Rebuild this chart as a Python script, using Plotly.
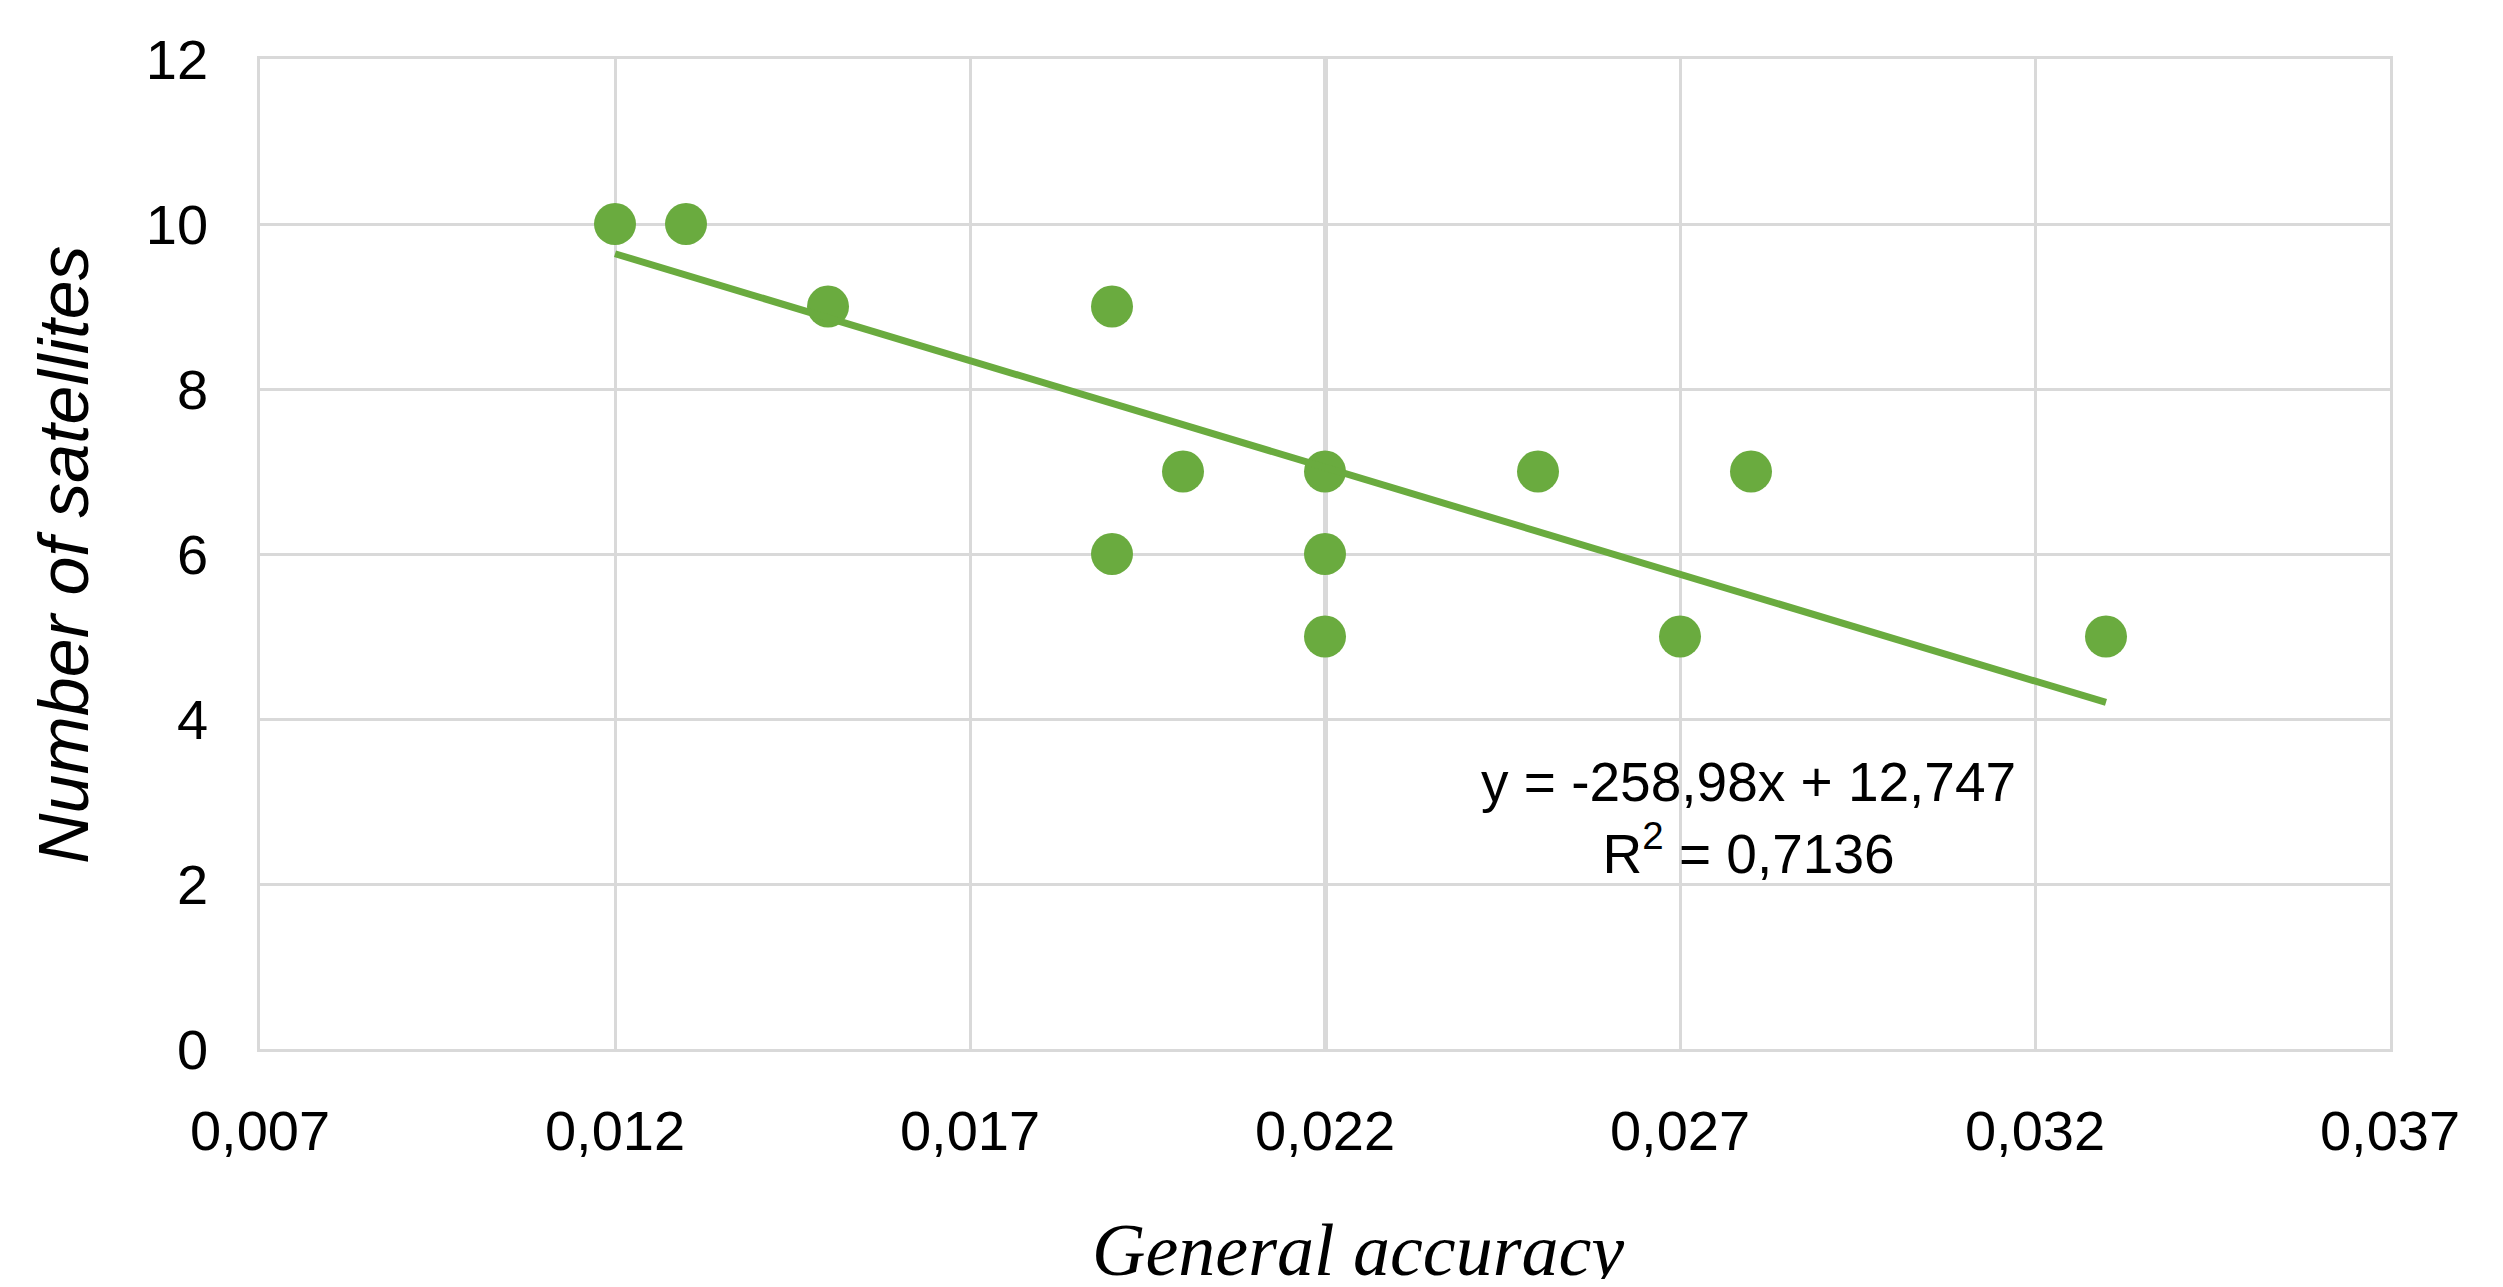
import plotly.graph_objects as go

# Data
accuracy = [0.012, 0.013, 0.015, 0.019, 0.020, 0.022, 0.025, 0.028, 0.019, 0.022, 0.022, 0.027, 0.033]
satellites = [10, 10, 9, 9, 7, 7, 7, 7, 6, 6, 5, 5, 5]

# Trendline (as printed on chart)
slope = -258.98
intercept = 12.747
r_squared_text = "0,7136"
trend_x = [min(accuracy), max(accuracy)]
trend_y = [slope * x + intercept for x in trend_x]

x_tickvals = [0.007, 0.012, 0.017, 0.022, 0.027, 0.032, 0.037]
x_ticktext = ["0,007", "0,012", "0,017", "0,022", "0,027", "0,032", "0,037"]
y_tickvals = [0, 2, 4, 6, 8, 10, 12]
y_ticktext = ["0", "2", "4", "6", "8", "10", "12"]

GREEN = "#6aab3f"
GRID = "#d9d9d9"
TICK_FONT = dict(family="Liberation Sans, Arial, sans-serif", size=56, color="#000000")

# page body has an 8px default margin; size the figure to fit the window
W, H = 2503 - 16, 1287 - 16
L, R, T, B = 252, 105, 51, 230
plot_w = W - L - R
plot_h = H - T - B

fig = go.Figure()

fig.add_trace(go.Scatter(
    x=accuracy, y=satellites, mode="markers",
    marker=dict(size=42, color=GREEN, line=dict(width=0)),
    showlegend=False, hoverinfo="x+y",
))

fig.add_trace(go.Scatter(
    x=trend_x, y=trend_y, mode="lines",
    line=dict(color=GREEN, width=7),
    showlegend=False, hoverinfo="skip",
))

# overlay axis to draw the heavier gridline at 0.022
fig.add_trace(go.Scatter(x=[0.022], y=[0], xaxis="x2", mode="markers",
                         marker=dict(size=0, opacity=0), showlegend=False, hoverinfo="skip"))

fig.update_layout(
    width=W, height=H,
    margin=dict(l=L, r=R, t=T, b=B),
    paper_bgcolor="white", plot_bgcolor="white",
    xaxis=dict(
        range=[0.007, 0.037], tickvals=x_tickvals, ticktext=x_ticktext,
        showgrid=True, gridcolor=GRID, gridwidth=2.5,
        zeroline=False, showline=True, linecolor=GRID, linewidth=2.5, mirror=True, ticks="",
        tickfont=TICK_FONT, ticklabelstandoff=31,
    ),
    xaxis2=dict(
        range=[0.007, 0.037], overlaying="x", tickvals=[0.022],
        showgrid=True, gridcolor=GRID, gridwidth=5,
        showticklabels=False, zeroline=False, showline=False, ticks="",
        layer="below traces",
    ),
    yaxis=dict(
        range=[0, 12], tickvals=y_tickvals, ticktext=y_ticktext,
        showgrid=True, gridcolor=GRID, gridwidth=2.5,
        zeroline=False, showline=True, linecolor=GRID, linewidth=2.5, mirror=True, ticks="",
        tickfont=TICK_FONT, ticklabelstandoff=38,
    ),
    annotations=[
        dict(
            text="y = -258,98x + 12,747<br>R<sup>2</sup> = " + r_squared_text,
            xref="paper", yref="paper", x=(1748 - 260) / plot_w, y=(1049 - 818) / plot_h,
            xanchor="center", yanchor="middle", showarrow=False,
            font=dict(family="Liberation Sans, Arial, sans-serif", size=55, color="#000000"),
            align="center",
        ),
        dict(
            text="<i>General accuracy</i>",
            xref="paper", yref="paper", x=(1358 - 260) / plot_w, y=-(1250 - 1049) / plot_h,
            xanchor="center", yanchor="middle", showarrow=False,
            font=dict(family="Liberation Serif, Times New Roman, serif", size=74, color="#000000"),
        ),
        dict(
            text="<i>Number of satellites</i>",
            xref="paper", yref="paper", x=-(260 - 64) / plot_w, y=0.5,
            xanchor="center", yanchor="middle", showarrow=False, textangle=-90,
            font=dict(family="Liberation Sans, Arial, sans-serif", size=70, color="#000000"),
        ),
    ],
)

fig.write_html("out.html")
